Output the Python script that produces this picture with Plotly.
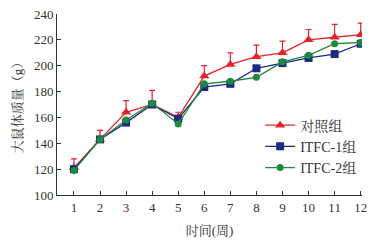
import plotly.graph_objects as go

weeks = [1, 2, 3, 4, 5, 6, 7, 8, 9, 10, 11, 12]
control = [121, 143, 164, 170, 160, 192, 201, 207, 210, 220, 222, 224]
control_err = [7, 7, 9, 11, 4, 8, 9, 9, 9, 8, 10, 9]
itfc1 = [120, 143, 156, 170, 159, 183.5, 186, 198, 202, 206, 209, 217]
itfc2 = [119, 143, 158, 171, 155, 186, 188, 191, 203, 208, 217, 218]
x_ticks = weeks
y_ticks = [100, 120, 140, 160, 180, 200, 220, 240]

font_fam = "'Liberation Serif', 'Times New Roman', 'Noto Serif CJK SC', 'Noto Sans CJK SC', serif"
red = "#e3242b"
blue = "#1c2a80"
green = "#1d8a3c"

fig = go.Figure()
fig.add_trace(go.Scatter(
    x=weeks, y=control, name="对照组", mode="lines+markers", legendgroup="a",
    line=dict(color=red, width=1.3),
    marker=dict(symbol="triangle-up", size=9, color=red),
    error_y=dict(type="data", array=control_err, arrayminus=[0]*12,
                 color=red, thickness=1.2, width=3)))
fig.add_trace(go.Scatter(
    x=weeks, y=itfc1, name="ITFC-1组", mode="lines+markers", legendgroup="b",
    line=dict(color=blue, width=1.3),
    marker=dict(symbol="square", size=8, color=blue)))
fig.add_trace(go.Scatter(
    x=weeks, y=itfc2, name="ITFC-2组", mode="lines+markers", legendgroup="c",
    line=dict(color=green, width=1.3),
    marker=dict(symbol="circle", size=7, color=green)))

fig.update_layout(
    width=372, height=233,
    margin=dict(l=49, r=18, t=6, b=46, autoexpand=False),
    paper_bgcolor="white", plot_bgcolor="white",
    font=dict(family=font_fam, size=13, color="#333"),
    showlegend=True,
    legend=dict(x=0.666, y=0.472, xanchor="left", yanchor="top",
                traceorder="grouped", bgcolor="rgba(0,0,0,0)",
                font=dict(size=14, family=font_fam), itemwidth=30,
                tracegroupgap=0),
)
fig.update_xaxes(
    range=[0.35, 12.05], tickvals=x_ticks, ticktext=[str(t) for t in x_ticks],
    showline=True, linecolor="#333", linewidth=1, ticks="inside", ticklen=4,
    tickcolor="#333", showgrid=False, zeroline=False, automargin=False,
    ticklabeloverflow="allow",
    title=dict(text="时间(周)", font=dict(size=13), standoff=12))
fig.update_yaxes(
    range=[100, 240], tickvals=y_ticks,
    showline=True, linecolor="#333", linewidth=1, ticks="inside", ticklen=4,
    tickcolor="#333", showgrid=False, zeroline=False, automargin=False,
    ticklabeloverflow="allow",
    title=dict(text="大鼠体质量（g）", font=dict(size=13), standoff=8))

fig.write_html("out.html")
